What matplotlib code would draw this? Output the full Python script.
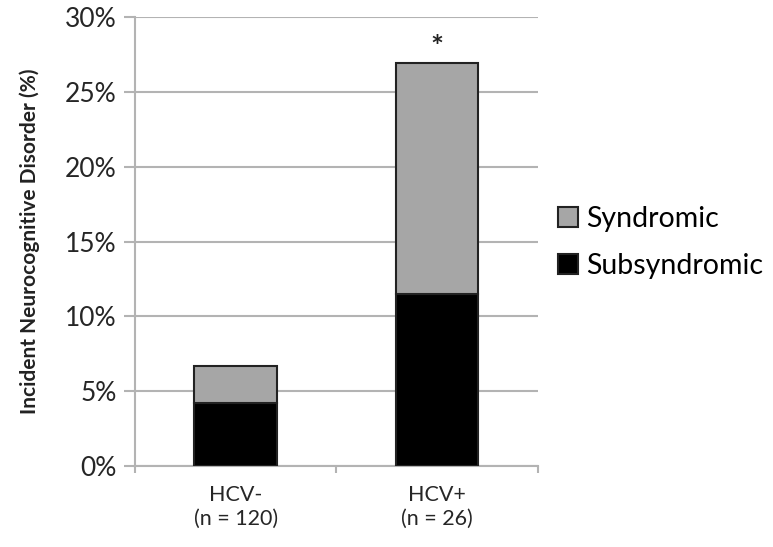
import matplotlib.pyplot as plt

plt.rcParams['font.family'] = ['Lato', 'DejaVu Sans']

groups = ['HCV-\n(n = 120)', 'HCV+\n(n = 26)']
subsyndromic = [4.2, 11.5]
syndromic = [2.5, 15.4]
yticks = [0, 5, 10, 15, 20, 25, 30]

fig = plt.figure(figsize=(7.73, 5.47), dpi=100)
ax = fig.add_axes([0.1746, 0.148, 0.5213, 0.821])

x = [0.5, 1.5]
width = 0.41
ax.bar(x, subsyndromic, width, color='black', edgecolor='#222222', linewidth=1.5,
       label='Subsyndromic', zorder=3)
ax.bar(x, syndromic, width, bottom=subsyndromic, color='#a6a6a6', edgecolor='#222222',
       linewidth=1.5, label='Syndromic', zorder=3)

# significance marker
total = subsyndromic[1] + syndromic[1]
ax.text(x[1], total + 0.1, '*', ha='center', va='bottom', fontsize=22,
        fontweight='bold', color='#222222')

ax.set_xlim(0, 2)
ax.set_ylim(0, 30)
ax.set_yticks(yticks)
ax.set_yticklabels([f'{v}%' for v in yticks])
ax.yaxis.grid(True, color='#b3b3b3', linewidth=1.5, zorder=0)
ax.set_axisbelow(True)

ax.set_xticks([0, 1, 2])
ax.set_xticklabels(['', '', ''])
ax.set_xticks(x, minor=True)
ax.set_xticklabels(groups, minor=True)
ax.tick_params(axis='x', which='major', length=5, color='#b3b3b3', width=1.5)
ax.tick_params(axis='x', which='minor', length=0, pad=14, labelsize=15.5, labelcolor='#262626')
ax.tick_params(axis='y', length=8, color='#b3b3b3', width=1.5, labelsize=19,
               labelcolor='#262626', pad=5)

for side in ['top', 'right']:
    ax.spines[side].set_visible(False)
for side in ['left', 'bottom']:
    ax.spines[side].set_color('#b3b3b3')
    ax.spines[side].set_linewidth(1.5)

ax.set_ylabel('Incident Neurocognitive Disorder (%)', fontsize=15, fontweight='bold',
              color='#222222', labelpad=18)

handles, labels = ax.get_legend_handles_labels()
fig.legend(handles[::-1], labels[::-1], loc='center left', bbox_to_anchor=(0.722, 0.557),
           frameon=False, fontsize=20.5, handlelength=0.7, handleheight=0.7,
           handletextpad=0.3, labelspacing=0.75, borderpad=0, borderaxespad=0)

fig.savefig('out.png', dpi=100)
